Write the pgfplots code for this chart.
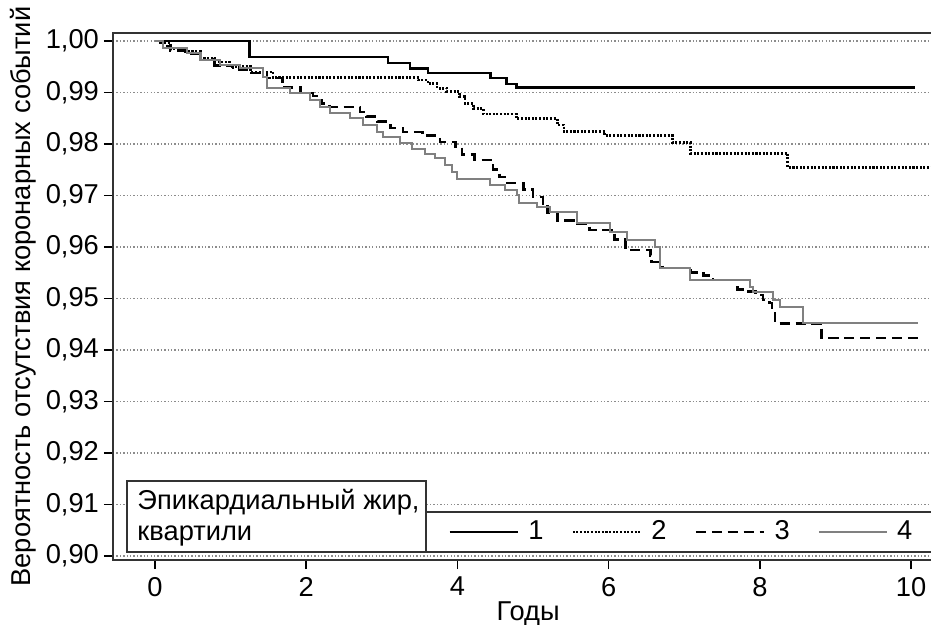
\documentclass[border=0pt]{standalone}
\usepackage{fontspec}
\setmainfont{Liberation Sans}
\usepackage{pgfplots}
\pgfplotsset{compat=1.18}

% Kaplan-Meier curves, quartiles of epicardial fat
\pgfplotstableread{
t s
0 1.0000
1.25 0.9969
3.08 0.9957
3.37 0.9947
3.61 0.9938
4.44 0.9928
4.65 0.9916
4.78 0.9910
10.05 0.9910
}\qone

\begin{document}
\begin{tikzpicture}[font=\fontsize{12}{14}\selectfont]
\begin{axis}[
  at={(49.72pt,28.6pt)}, anchor=south west,
  scale only axis, width=361.68pt, height=231.88pt,
  xmin=-0.556, xmax=10.317, ymin=0.89922, ymax=1.00155,
  xtick={0,2,4,6,8,10},
  ytick={0.90,0.91,0.92,0.93,0.94,0.95,0.96,0.97,0.98,0.99,1.00},
  xtick pos=bottom, ytick pos=left, tick align=outside,
  major tick length=4pt,
  tick style={black, line width=0.7pt},
  axis line style={black!80, line width=0.7pt},
  /pgf/number format/assume math mode=true,
  yticklabel style={inner sep=2pt, /pgf/number format/.cd, fixed, fixed zerofill, precision=2, use comma},
  tick label style={font=\fontsize{12}{14}\selectfont},
  ymajorgrids,
  major grid style={black!45, line width=0.5pt, dash pattern=on 0.6pt off 0.9pt},
  xlabel={Годы},
  xlabel style={at={(axis description cs:0.505,-0.1139)}, anchor=base},
  ylabel={Вероятность отсутствия коронарных событий},
  ylabel style={at={(axis description cs:-0.100,0.500)}, anchor=base, rotate=0},
  label style={font=\fontsize{12}{14}\selectfont},
  legend columns=4,
  legend style={at={(0.4076,0.0531)}, anchor=west, draw=none, fill=none, inner sep=0pt,
    font=\fontsize{12}{14}\selectfont,
    /tikz/every odd column/.append style={column sep=2pt},
    /tikz/every even column/.append style={column sep=10.3pt}},
  legend image code/.code={\draw[#1] (0pt,0pt) -- (30pt,0pt);},
  const plot, no markers,
]
\addplot[black, line width=1.1pt] table {\qone};
\addlegendentry{1}

\addplot[black, line width=1.2pt, dash pattern=on 0.9pt off 0.7pt] coordinates {
(0,1.0000) (0.07,0.9996) (0.20,0.9986) (0.40,0.9979) (0.60,0.9967) (0.79,0.9959)
(0.99,0.9950) (1.26,0.9940) (1.56,0.9929) (3.48,0.9924) (3.61,0.9917) (3.73,0.9908)
(3.86,0.9902) (4.03,0.9892) (4.10,0.9879) (4.21,0.9869) (4.34,0.9858) (4.78,0.9849)
(5.32,0.9837) (5.41,0.9824) (5.95,0.9816) (6.84,0.9803) (7.08,0.9782) (8.37,0.9755)
(10.32,0.9755)};
\addlegendentry{2}

\addplot[black, line width=1.2pt, dash pattern=on 4.5pt off 2.5pt] coordinates {
(0,1.0000) (0.07,0.9996) (0.16,0.9990) (0.20,0.9981) (0.40,0.9975) (0.60,0.9963)
(0.79,0.9953) (1.03,0.9944) (1.26,0.9938) (1.48,0.9928) (1.69,0.9909) (1.92,0.9899)
(2.09,0.9893) (2.14,0.9885) (2.21,0.9878) (2.31,0.9872) (2.71,0.9862) (2.80,0.9854)
(2.94,0.9843) (3.11,0.9831) (3.28,0.9823) (3.54,0.9816) (3.77,0.9804) (3.97,0.9794)
(4.06,0.9779) (4.23,0.9769) (4.47,0.9750) (4.56,0.9736) (4.63,0.9724) (4.87,0.9711)
(5.00,0.9697) (5.13,0.9685) (5.19,0.9666) (5.32,0.9652) (5.58,0.9645) (5.75,0.9633)
(6.08,0.9614) (6.22,0.9594) (6.55,0.9583) (6.57,0.9571) (6.71,0.9559) (7.08,0.9551)
(7.25,0.9544) (7.38,0.9536) (7.70,0.9517) (7.83,0.9513) (7.94,0.9507) (8.04,0.9497)
(8.13,0.9491) (8.16,0.9472) (8.20,0.9452) (8.82,0.9423) (10.12,0.9423)};
\addlegendentry{3}

\addplot[black!50, line width=1pt] coordinates {
(0,1.0000) (0.11,0.9986) (0.42,0.9977) (0.60,0.9963) (0.86,0.9953) (1.12,0.9948)
(1.43,0.9930) (1.48,0.9909) (1.79,0.9899) (2.05,0.9885) (2.18,0.9872) (2.31,0.9860)
(2.58,0.9850) (2.75,0.9837) (2.94,0.9823) (3.02,0.9814) (3.24,0.9802) (3.40,0.9790)
(3.57,0.9781) (3.70,0.9773) (3.84,0.9759) (3.93,0.9746) (3.99,0.9732) (4.43,0.9720)
(4.63,0.9711) (4.79,0.9701) (4.81,0.9685) (5.05,0.9678) (5.22,0.9668) (5.58,0.9647)
(6.02,0.9629) (6.24,0.9614) (6.61,0.9600) (6.68,0.9559) (7.08,0.9536) (7.87,0.9522)
(7.91,0.9513) (8.17,0.9497) (8.27,0.9483) (8.57,0.9452) (10.09,0.9452)};
\addlegendentry{4}

% legend frames
\draw[fill=white, draw=black!80, line width=0.7pt] (axis cs:3.585,0.90078) rectangle (axis cs:10.6,0.90854);
\draw[fill=white, draw=black!80, line width=0.7pt] (axis cs:-0.37,0.90078) rectangle (axis cs:3.585,0.91456);
\node[anchor=base west, inner sep=0pt] at (axis cs:-0.238,0.90893) {Эпикардиальный жир,};
\node[anchor=base west, inner sep=0pt] at (axis cs:-0.238,0.9031) {квартили};
\end{axis}
\pgfresetboundingbox
\useasboundingbox (0,0) rectangle (409.64pt,275pt);
\end{tikzpicture}
\end{document}
